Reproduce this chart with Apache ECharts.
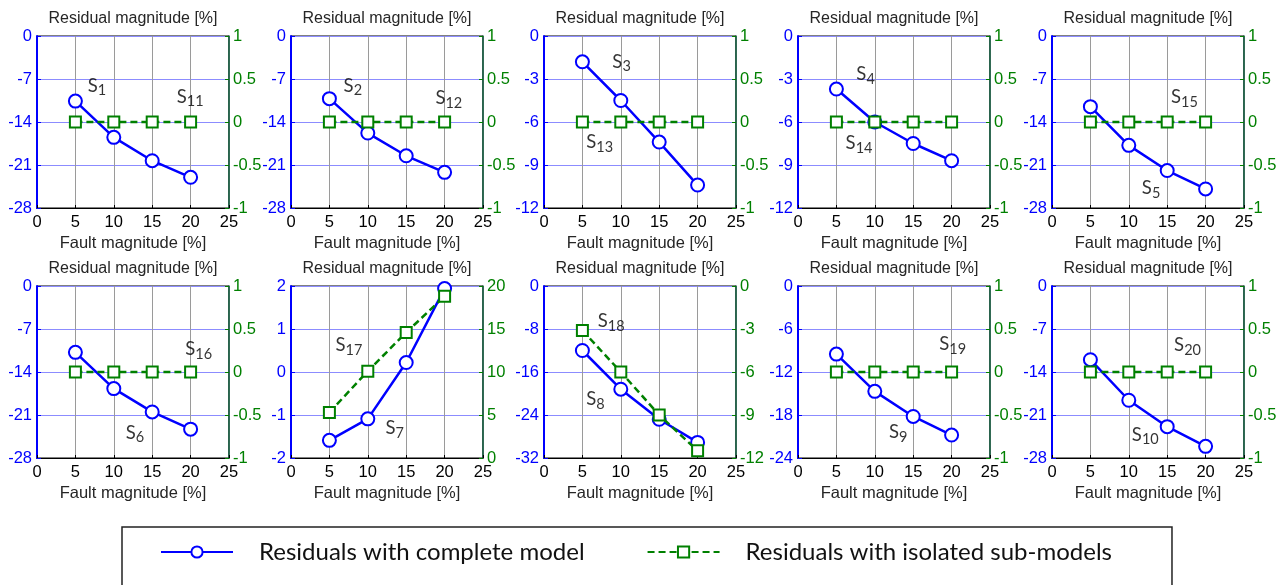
<!DOCTYPE html>
<html>
<head>
<meta charset="utf-8">
<script src="https://cdn.jsdelivr.net/npm/echarts@6/dist/echarts.min.js"></script>
<style>
  html, body { margin: 0; padding: 0; background: #fff; }
  #chart { width: 1288px; height: 585px; }
</style>
</head>
<body>
<div id="chart"></div>
<script>
// fault magnitude [%]
var faultPct = [5, 10, 15, 20];

// residuals with complete model (left axis)
var s1 = [-10.6, -16.5, -20.3, -23.0];
var s2 = [-10.2, -15.8, -19.5, -22.2];
var s3 = [-1.8, -4.5, -7.4, -10.4];
var s4 = [-3.7, -6.0, -7.5, -8.7];
var s5 = [-11.5, -17.8, -21.9, -24.9];
var s6 = [-10.8, -16.7, -20.5, -23.3];
var s7 = [-1.59, -1.09, 0.22, 1.94];
var s8 = [-12.0, -19.2, -24.8, -29.1];
var s9 = [-9.5, -14.7, -18.2, -20.8];
var s10 = [-12.0, -18.6, -22.9, -26.1];

// residuals with isolated sub-models (right axis)
var s11 = [0, 0, 0, 0];
var s12 = [0, 0, 0, 0];
var s13 = [0, 0, 0, 0];
var s14 = [0, 0, 0, 0];
var s15 = [0, 0, 0, 0];
var s16 = [0, 0, 0, 0];
var s17 = [5.3, 10.1, 14.6, 18.8];
var s18 = [-3.1, -6.0, -9.0, -11.5];
var s19 = [0, 0, 0, 0];
var s20 = [0, 0, 0, 0];

var complete = [s1, s2, s3, s4, s5, s6, s7, s8, s9, s10];
var isolated = [s11, s12, s13, s14, s15, s16, s17, s18, s19, s20];

// axis ranges
var leftMin  = [-28, -28, -12, -12, -28, -28, -2, -32, -24, -28];
var leftMax  = [0, 0, 0, 0, 0, 0, 2, 0, 0, 0];
var leftStep = [7, 7, 3, 3, 7, 7, 1, 8, 6, 7];
var rightMin  = [-1, -1, -1, -1, -1, -1, 0, -12, -1, -1];
var rightMax  = [1, 1, 1, 1, 1, 1, 20, 0, 1, 1];
var rightStep = [0.5, 0.5, 0.5, 0.5, 0.5, 0.5, 5, 3, 0.5, 0.5];

// sensor tags: [subscript, x, y on left axis]
var annotations = [
  [['1', 6.6, -8.1], ['11', 18.2, -9.9]],
  [['2', 6.85, -8.1], ['12', 18.8, -10.1]],
  [['3', 8.9, -1.8], ['13', 5.5, -7.4]],
  [['4', 7.6, -2.65], ['14', 6.2, -7.5]],
  [['15', 15.5, -10.0], ['5', 11.7, -24.8]],
  [['16', 19.3, -10.3], ['6', 11.55, -23.9]],
  [['17', 5.8, 0.63], ['7', 12.3, -1.31]],
  [['18', 7.0, -6.6], ['8', 5.5, -21.1]],
  [['19', 18.4, -8.1], ['9', 11.85, -20.4]],
  [['20', 15.9, -9.6], ['10', 10.4, -24.2]]
];

var nameComplete = 'Residuals with complete model';
var nameIsolated = 'Residuals with isolated sub-models';

var myChart = echarts.init(document.getElementById('chart'));

var colLeft = [37, 291, 544, 798, 1052];
var rowTop = [36, 286];
var gw = 192, gh = 172;
var tickFont = 'Liberation Sans';

var grids = [], xAxes = [], yAxes = [], series = [], graphics = [];

for (var i = 0; i < 10; i++) {
  var gLeft = colLeft[i % 5], gTop = rowTop[Math.floor(i / 5)];
  grids.push({ left: gLeft, top: gTop, width: gw, height: gh, show: true, borderColor: '#000', borderWidth: 1 });
  xAxes.push({
    gridIndex: i, type: 'value', min: 0, max: 25, interval: 5,
    name: 'Fault magnitude [%]', nameLocation: 'middle', nameGap: 27,
    nameTextStyle: { color: '#262626', fontSize: 16.5, fontFamily: tickFont },
    axisLine: { onZero: false, lineStyle: { color: '#000', width: 1 } },
    axisTick: { inside: true, length: 3, lineStyle: { color: '#000' } },
    axisLabel: { color: '#000', fontSize: 16.5, fontFamily: tickFont, margin: 6 },
    splitLine: { show: true, lineStyle: { color: '#9a9a9a', width: 1 } }
  });
  yAxes.push({
    gridIndex: i, type: 'value', position: 'left',
    min: leftMin[i], max: leftMax[i], interval: leftStep[i],
    axisLine: { show: true, onZero: false, lineStyle: { color: '#0000ff', width: 2 } },
    axisTick: { show: true, inside: true, length: 4, lineStyle: { color: '#0000ff' } },
    axisLabel: { color: '#0000ff', fontSize: 16.5, fontFamily: tickFont, margin: 5 },
    splitLine: { show: true, lineStyle: { color: '#8c8cff', width: 1 } }
  });
  yAxes.push({
    gridIndex: i, type: 'value', position: 'right',
    min: rightMin[i], max: rightMax[i], interval: rightStep[i],
    axisLine: { show: true, onZero: false, lineStyle: { color: '#0e5a3c', width: 1.5 } },
    axisTick: { show: true, inside: true, length: 4, lineStyle: { color: '#008000' } },
    axisLabel: { color: '#008000', fontSize: 16.5, fontFamily: tickFont, margin: 4 },
    splitLine: { show: false }
  });

  series.push({
    name: nameComplete, type: 'line', xAxisIndex: i, yAxisIndex: 2 * i,
    data: faultPct.map(function (x, k) { return [x, complete[i][k]]; }),
    lineStyle: { color: '#0000ff', width: 2.5 },
    symbol: 'emptyCircle', symbolSize: 13,
    itemStyle: { color: '#0000ff', borderWidth: 2.5 }, z: 3
  });
  series.push({
    name: nameIsolated, type: 'line', xAxisIndex: i, yAxisIndex: 2 * i + 1,
    data: faultPct.map(function (x, k) { return [x, isolated[i][k]]; }),
    lineStyle: { color: '#008000', width: 2.5, type: [7, 4] },
    symbol: 'emptyRect', symbolSize: 11,
    itemStyle: { color: '#008000', borderWidth: 2.5 }, z: 4
  });
  // sensor tags S1..S20
  series.push({
    type: 'scatter', silent: true, xAxisIndex: i, yAxisIndex: 2 * i, symbolSize: 0,
    data: annotations[i].map(function (a) { return [a[1], a[2], a[0]]; }),
    label: {
      show: true, position: [0, 0], align: 'left', verticalAlign: 'middle',
      color: '#000', textBorderWidth: 0,
      formatter: function (p) { return '{s|S}{n|' + p.data[2] + '}'; },
      rich: {
        s: { fontFamily: 'Lato', fontSize: 18.5, color: '#000', textBorderWidth: 0 },
        n: { fontFamily: 'Lato', fontSize: 14.5, color: '#000', textBorderWidth: 0, padding: [10, 0, 0, 0] }
      }
    }, z: 5
  });

  graphics.push({
    type: 'text', x: gLeft + gw / 2, y: gTop - 17,
    style: { text: 'Residual magnitude [%]', fill: '#262626', font: '16px "Liberation Sans"', align: 'center', verticalAlign: 'middle' }
  });
}

var option = {
  animation: false,
  grid: grids,
  xAxis: xAxes,
  yAxis: yAxes,
  series: series,
  graphic: graphics,
  legend: {
    data: [nameComplete, nameIsolated], left: 122, top: 527,
    padding: [13, 60, 40, 38], borderColor: '#222', borderWidth: 1.5,
    itemWidth: 72, itemHeight: 14, itemGap: 62,
    textStyle: { fontFamily: 'Lato', fontSize: 24, color: '#111', padding: [0, 0, 0, 21] }
  }
};

myChart.setOption(option);
</script>
</body>
</html>
